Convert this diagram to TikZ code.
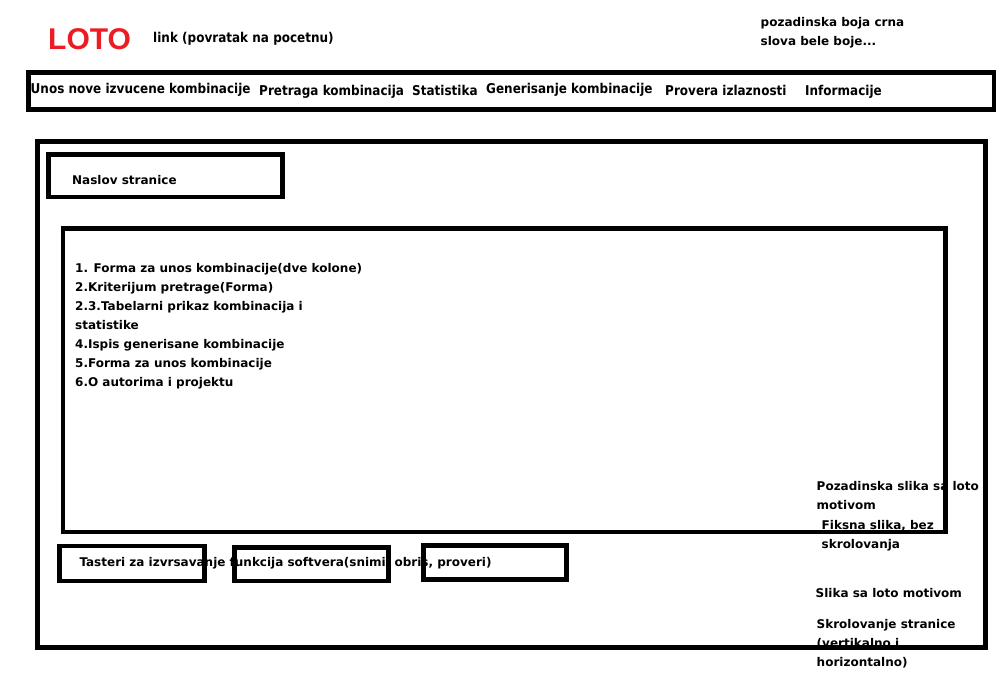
\documentclass[tikz,border=0pt]{standalone}
\usepackage{fontspec}
\setmainfont{DejaVu Sans}
\newfontfamily\paintfont[FakeStretch=0.89]{DejaVu Sans}
\newfontfamily\lotofont{Liberation Sans}
\definecolor{lotored}{RGB}{237,28,36}

\tikzset{
  box/.style={line width=4.6pt},
  note/.style={anchor=base west, inner sep=0pt, font=\bfseries\fontsize{12}{14}\selectfont},
  navitem/.style={note, font=\paintfont\bfseries\fontsize{13.5}{15}\selectfont}
}

\begin{document}
\begin{tikzpicture}[x=1pt,y=-1pt]
\useasboundingbox (0,0) rectangle (1008,680);

% header
\node[anchor=base west, inner sep=0pt, text=lotored, font=\lotofont\bfseries\fontsize{30}{32}\selectfont] (loto) at (48,49) {LOTO};
\node[navitem] (link) at (153,42) {link (povratak na pocetnu)};
\node[note] (bg1) at (760.5,26.5) {pozadinska boja crna};
\node[note] (bg2) at (760.5,45.5) {slova bele boje...};

% menu
\foreach \x/\y/\t [count=\i] in {30.5/93.5/Unos nove izvucene kombinacije, 259/95.5/Pretraga kombinacija, 412/95.5/Statistika, 486/93.5/Generisanje kombinacije, 665/95.5/Provera izlaznosti, 805/95/Informacije}
{
\node[navitem] (menu\i) at (\x,\y) {\t};
}

% page
\node[note] (title) at (72,184) {Naslov stranice};

\foreach \t [count=\i] in {1. Forma za unos kombinacije(dve kolone), 2.Kriterijum pretrage(Forma), 2.3.Tabelarni prikaz kombinacija i, statistike, 4.Ispis generisane kombinacije, 5.Forma za unos kombinacije, 6.O autorima i projektu}
{
\node[note] (item\i) at (75,{272.3+19*(\i-1)}) {\t};
}

\node[note] (buttons) at (79.3,566.7) {Tasteri za izvrsavanje funkcija softvera(snimi, obris, proveri)};

% side notes
\node[note] (side1) at (816.5,490.5) {Pozadinska slika sa loto};
\node[note] (side2) at (816.5,509.5) {motivom};
\node[note] (side3) at (821.5,529.5) {Fiksna slika, bez};
\node[note] (side4) at (821.5,548.5) {skrolovanja};
\node[note] (side5) at (815.5,597) {Slika sa loto motivom};
\node[note] (side6) at (816.5,628) {Skrolovanje stranice};
\node[note] (side7) at (816.5,647) {(vertikalno i};
\node[note] (side8) at (816.5,666) {horizontalno)};

% frames
\draw[box] (28.5,72.5) rectangle (993.8,109.2);
\draw[box] (37.5,141.3) rectangle (985.2,647.5);
\draw[box] (48.5,154.5) rectangle (282.7,197);
\draw[box] (63,228.5) rectangle (945.5,531.8);
\draw[box] (59.2,545.8) rectangle (204.2,580.8);
\draw[box] (234.2,547.5) rectangle (388.2,580.8);
\draw[box] (423.5,545.2) rectangle (566.2,579.2);
\end{tikzpicture}
\end{document}
